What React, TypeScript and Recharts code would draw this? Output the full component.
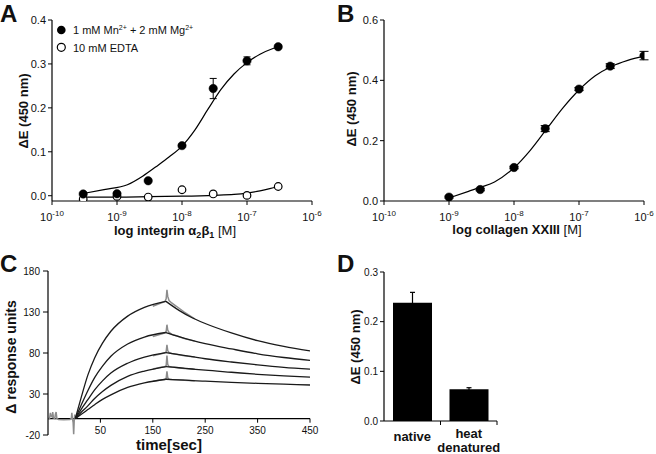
import React from 'react';
import {
  ComposedChart,
  LineChart,
  BarChart,
  Line,
  Scatter,
  Bar,
  XAxis,
  YAxis,
  ErrorBar,
  ReferenceLine,
} from 'recharts';

const FONT = '"Liberation Sans", Arial, Helvetica, sans-serif';
const INK = '#111';

// ---------- Panel A ----------
const aLogConc = [-9.52, -9, -8.52, -8, -7.52, -7, -6.52];
const aMnMg = [0.004, 0.0045, 0.034, 0.114, 0.244, 0.307, 0.339];
const aMnMgErr = [0.002, 0.002, 0.002, 0.003, 0.023, 0.009, 0.004];
const aEdta = [-0.0075, -0.0015, -0.003, 0.0136, 0.004, 0.0008, 0.021];
const aEdtaErr = [0.002, 0.002, 0.002, 0.003, 0.002, 0.002, 0.003];
const aFitMnMgLog = [-9.52, -9.2, -8.84, -8.6, -8.4, -8.2, -8.0, -7.8, -7.6, -7.4, -7.2, -7.0, -6.8, -6.6, -6.52];
const aFitMnMg = [0.005, 0.014, 0.025, 0.045, 0.066, 0.088, 0.113, 0.15, 0.197, 0.242, 0.277, 0.303, 0.322, 0.335, 0.339];
const aFitEdtaLog = [-9.52, -9, -8.5, -8, -7.5, -7.2, -7.0, -6.8, -6.65, -6.52];
const aFitEdta = [-0.003, -0.003, -0.002, -0.001, 0.001, 0.003, 0.006, 0.011, 0.016, 0.021];
const aTicksX = [-10, -9, -8, -7, -6];
const aTicksY = [0, 0.1, 0.2, 0.3, 0.4];

// ---------- Panel B ----------
const bLogConc = [-9, -8.52, -8, -7.52, -7, -6.52, -6];
const bValues = [0.013, 0.038, 0.111, 0.24, 0.371, 0.447, 0.482];
const bErr = [0.003, 0.004, 0.004, 0.01, 0.005, 0.008, 0.014];
const bFitLog = [-9, -8.7, -8.52, -8.3, -8.0, -7.75, -7.5, -7.25, -7.0, -6.75, -6.5, -6.25, -6.0];
const bFit = [0.01, 0.032, 0.045, 0.063, 0.11, 0.168, 0.238, 0.308, 0.368, 0.415, 0.446, 0.466, 0.48];
const bTicksX = [-10, -9, -8, -7, -6];
const bTicksY = [0, 0.2, 0.4, 0.6];

// ---------- Panel C ----------
const cAssocTime = [2, 13, 26, 39, 54, 70, 102, 134, 175];
const cAssoc = [
  [0, 25, 53, 74, 92, 106.5, 125, 135.7, 143],
  [0, 16, 34, 50, 64, 76, 91, 99.5, 105],
  [0, 11, 23, 35, 46, 55.5, 67.5, 75, 80.5],
  [0, 7.5, 15.5, 24.5, 33, 40.5, 51.5, 58, 63.5],
  [0, 5, 11, 17, 23.5, 29, 38, 43.5, 48],
];
const cDissocTime = [175, 200, 225, 250, 300, 350, 400, 450];
const cDissoc = [
  [143, 132, 123, 116, 104.5, 95, 88, 82.5],
  [105, 100, 95.5, 91.5, 85, 79, 74.5, 71],
  [80.5, 78, 75.5, 73, 69, 65.5, 62.5, 60.3],
  [63.5, 62, 60.5, 59, 56.5, 54, 52, 50.6],
  [48, 47.2, 46.4, 45.6, 44.2, 43, 42, 41],
];
const cRawTime = [150, 168, 173, 175.5, 177, 178.5, 181, 186, 195, 210, 230];
const cRaw = [
  [137, 141.5, 142.8, 146, 157, 149, 144, 141, 137, 130, 121.5],
  [100, 103.5, 104.5, 106, 114.5, 108, 105, 103, 101, 97.5, 94.5],
  [76.5, 79.5, 80.2, 81.5, 90, 83, 80.5, 79.5, 78.5, 76.5, 75],
  [60.5, 62.8, 63.3, 64.5, 77, 66, 63.5, 62.8, 62.2, 61.2, 60.3],
  [45.5, 47.5, 47.8, 49, 57.5, 50, 48, 47.7, 47.3, 46.7, 46.2],
];
const cBaseTime = [-50, -47, -45.5, -44, -42, -41, -39.5, -37, -36, -34.5, -33, -30, -20, -8, -5.5, -4.5, -3.5, -2, -1, 0, 1, 2];
const cBase = [0, 0, 7, 3, 2, 8, 1, 0, 5, 8, 0, -1, -1.3, -1, 0, 7, 1, -5, -19, -3, 5, 0];
const cTicksX = [50, 150, 250, 350, 450];
const cTicksY = [-20, 30, 80, 130, 180];

// ---------- Panel D ----------
const dCategories = ['native', 'heat\ndenatured'];
const dValues = [0.238, 0.064];
const dErr = [0.021, 0.003];
const dTicksY = [0, 0.1, 0.2, 0.3];

const zip = (xs: number[], ys: number[], errs?: number[]) =>
  xs.map((x, i) => ({ x, y: ys[i], err: errs ? errs[i] : 0 }));

const aMnMgData = zip(aLogConc, aMnMg, aMnMgErr);
const aEdtaData = zip(aLogConc, aEdta, aEdtaErr);
const aFitMnMgData = zip(aFitMnMgLog, aFitMnMg);
const aFitEdtaData = zip(aFitEdtaLog, aFitEdta);
const bData = zip(bLogConc, bValues, bErr);
const bFitData = zip(bFitLog, bFit);
const cAssocData = cAssoc.map((vals) => zip(cAssocTime, vals));
const cDissocData = cDissoc.map((vals) => zip(cDissocTime, vals));
const cRawData = cRaw.map((vals) => zip(cRawTime, vals));
const cBaseData = zip(cBaseTime, cBase);
const dData = dCategories.map((c, i) => ({ pos: i + 0.5, value: dValues[i], err: dErr[i] }));

const PowTick = (props: any) => {
  const { x, y, payload } = props;
  return (
    <text x={x} y={y + 13.5} textAnchor="middle" fontSize={11} fontFamily={FONT} fill={INK}>
      10
      <tspan dy={-4.5} fontSize={8}>
        {String(payload.value)}
      </tspan>
    </text>
  );
};

const CTick = (props: any) => {
  const { x, y, payload } = props;
  return (
    <text x={x} y={y - 1} textAnchor="middle" fontSize={10} fontFamily={FONT} fill={INK}>
      {payload.value}
    </text>
  );
};

const DTick = (props: any) => {
  const { x, y, payload } = props;
  const v = payload.value as number;
  if (Number.isInteger(v)) {
    if (v === 0) return null;
    return <line x1={x} x2={x} y1={y} y2={y + 4} stroke="#000" strokeWidth={1} />;
  }
  const lines = dCategories[Math.floor(v)].split('\n');
  const base = lines.length === 1 ? 20 : 17;
  return (
    <g>
      {lines.map((l, i) => (
        <text
          key={i}
          x={x}
          y={y + base + i * 14}
          textAnchor="middle"
          fontSize={13}
          fontWeight="bold"
          fontFamily={FONT}
          fill={INK}
        >
          {l}
        </text>
      ))}
    </g>
  );
};

const filledDot = (props: any) => {
  const { cx, cy } = props;
  return <circle cx={cx} cy={cy} r={4.2} fill="#000" stroke="#000" strokeWidth={0.5} />;
};
const openDot = (props: any) => {
  const { cx, cy } = props;
  return <circle cx={cx} cy={cy} r={3.8} fill="#fff" stroke="#000" strokeWidth={1.2} />;
};

const yTickStyle = (size: number) => ({ fontSize: size, fontFamily: FONT, fill: INK });
const axisLine = { stroke: '#000', strokeWidth: 1.2 };

export default function App() {
  return (
    <div style={{ position: 'absolute', left: 0, top: 0, width: 656, height: 454, background: '#fff', fontFamily: FONT }}>
      {/* Panel A */}
      <div style={{ position: 'absolute', left: 0, top: 0 }}>
        <ComposedChart width={330} height={225} margin={{ top: 20, right: 18, bottom: 0, left: 0 }}>
          <XAxis
            type="number"
            dataKey="x"
            domain={[-10, -6]}
            ticks={aTicksX}
            allowDataOverflow
            height={24}
            tickSize={4}
            tickMargin={2}
            axisLine={axisLine}
            tickLine={{ stroke: '#000' }}
            tick={<PowTick />}
            interval={0}
          />
          <YAxis
            type="number"
            dataKey="y"
            domain={[-0.012, 0.4]}
            ticks={aTicksY}
            allowDataOverflow
            width={52}
            tickSize={4}
            tickMargin={2}
            axisLine={axisLine}
            tickLine={{ stroke: '#000' }}
            tick={yTickStyle(11)}
            tickFormatter={(v: number) => v.toFixed(1)}
            interval={0}
          />
          <Line data={aFitMnMgData} dataKey="y" type="monotone" stroke="#000" strokeWidth={1.2} dot={false} isAnimationActive={false} />
          <Line data={aFitEdtaData} dataKey="y" type="monotone" stroke="#000" strokeWidth={1.2} dot={false} isAnimationActive={false} />
          <Scatter data={aEdtaData} dataKey="y" shape={openDot} isAnimationActive={false}>
            <ErrorBar dataKey="err" direction="y" width={3.5} stroke="#000" strokeWidth={1} />
          </Scatter>
          <Scatter data={aMnMgData} dataKey="y" shape={filledDot} isAnimationActive={false}>
            <ErrorBar dataKey="err" direction="y" width={3.5} stroke="#000" strokeWidth={1} />
          </Scatter>
        </ComposedChart>
      </div>

      {/* Panel B */}
      <div style={{ position: 'absolute', left: 330, top: 0 }}>
        <ComposedChart width={326} height={225} margin={{ top: 20, right: 12, bottom: 0, left: 0 }}>
          <XAxis
            type="number"
            dataKey="x"
            domain={[-10, -6]}
            ticks={bTicksX}
            allowDataOverflow
            height={24}
            tickSize={4}
            tickMargin={2}
            axisLine={axisLine}
            tickLine={{ stroke: '#000' }}
            tick={<PowTick />}
            interval={0}
          />
          <YAxis
            type="number"
            dataKey="y"
            domain={[0, 0.6]}
            ticks={bTicksY}
            allowDataOverflow
            width={54}
            tickSize={4}
            tickMargin={2}
            axisLine={axisLine}
            tickLine={{ stroke: '#000' }}
            tick={yTickStyle(11)}
            tickFormatter={(v: number) => v.toFixed(1)}
            interval={0}
          />
          <Line data={bFitData} dataKey="y" type="monotone" stroke="#000" strokeWidth={1.2} dot={false} isAnimationActive={false} />
          <Scatter data={bData} dataKey="y" shape={filledDot} isAnimationActive={false}>
            <ErrorBar dataKey="err" direction="y" width={4.5} stroke="#000" strokeWidth={1} />
          </Scatter>
        </ComposedChart>
      </div>

      {/* Panel C */}
      <div style={{ position: 'absolute', left: 0, top: 250 }}>
        <LineChart width={330} height={204} margin={{ top: 21, right: 20, bottom: 0, left: 0 }}>
          <XAxis
            type="number"
            dataKey="x"
            domain={[-50, 450]}
            ticks={cTicksX}
            allowDataOverflow
            height={19}
            tickSize={0}
            tickMargin={0}
            axisLine={false}
            tickLine={false}
            tick={<CTick />}
            interval={0}
          />
          <YAxis
            type="number"
            dataKey="y"
            domain={[-20, 180]}
            ticks={cTicksY}
            allowDataOverflow
            width={48}
            tickSize={5}
            tickMargin={3}
            axisLine={axisLine}
            tickLine={{ stroke: '#000' }}
            tick={yTickStyle(10)}
            interval={0}
          />
          <ReferenceLine y={0} stroke="#000" strokeWidth={1.2} ifOverflow="extendDomain" />
          {cTicksX.map((t) => (
            <ReferenceLine
              key={t}
              segment={[
                { x: t, y: 0 },
                { x: t, y: -5 },
              ]}
              stroke="#000"
              strokeWidth={1}
            />
          ))}
          <Line data={cBaseData} dataKey="y" type="linear" stroke="#8c8c8c" strokeWidth={1.5} dot={false} isAnimationActive={false} />
          {cRawData.map((d, i) => (
            <Line key={'r' + i} data={d} dataKey="y" type="linear" stroke="#8c8c8c" strokeWidth={1.5} dot={false} isAnimationActive={false} />
          ))}
          {cAssocData.map((d, i) => (
            <Line key={'a' + i} data={d} dataKey="y" type="monotone" stroke="#1a1a1a" strokeWidth={1.3} dot={false} isAnimationActive={false} />
          ))}
          {cDissocData.map((d, i) => (
            <Line key={'d' + i} data={d} dataKey="y" type="monotone" stroke="#1a1a1a" strokeWidth={1.3} dot={false} isAnimationActive={false} />
          ))}
        </LineChart>
      </div>

      {/* Panel D */}
      <div style={{ position: 'absolute', left: 330, top: 250 }}>
        <BarChart width={326} height={204} data={dData} margin={{ top: 22, right: 159, bottom: 0, left: 0 }}>
          <XAxis
            type="number"
            dataKey="pos"
            domain={[0, 2]}
            ticks={[0, 0.5, 1, 1.5, 2]}
            allowDataOverflow
            height={33}
            tickSize={0}
            tickMargin={0}
            axisLine={axisLine}
            tickLine={false}
            tick={<DTick />}
            interval={0}
          />
          <YAxis
            type="number"
            domain={[0, 0.3]}
            ticks={dTicksY}
            allowDataOverflow
            width={54}
            tickSize={4}
            tickMargin={2}
            axisLine={axisLine}
            tickLine={{ stroke: '#000' }}
            tick={yTickStyle(10)}
            tickFormatter={(v: number) => v.toFixed(1)}
            interval={0}
          />
          <Bar dataKey="value" fill="#000" barSize={39} isAnimationActive={false}>
            <ErrorBar dataKey="err" direction="y" width={2.5} stroke="#000" strokeWidth={1.2} />
          </Bar>
        </BarChart>
      </div>

      {/* Overlay text */}
      <svg width={656} height={454} style={{ position: 'absolute', left: 0, top: 0, pointerEvents: 'none' }}>
        <g fontFamily={FONT} fill={INK}>
          {/* panel letters */}
          <text x={0} y={21.5} fontSize={24} fontWeight="bold">A</text>
          <text x={337} y={21.5} fontSize={24} fontWeight="bold">B</text>
          <text x={0} y={272} fontSize={24} fontWeight="bold">C</text>
          <text x={337} y={272} fontSize={24} fontWeight="bold">D</text>

          {/* legend A */}
          <circle cx={61.3} cy={30} r={4.3} fill="#000" />
          <text x={73} y={34.3} fontSize={11}>
            1 mM Mn<tspan dy={-4} fontSize={7}>2+</tspan>
            <tspan dy={4}> + 2 mM Mg</tspan>
            <tspan dy={-4} fontSize={7}>2+</tspan>
          </text>
          <circle cx={61.3} cy={47.3} r={4} fill="#fff" stroke="#000" strokeWidth={1.2} />
          <text x={73} y={51.5} fontSize={11}>10 mM EDTA</text>

          {/* axis titles */}
          <text transform="translate(28,111) rotate(-90)" textAnchor="middle" fontSize={13} fontWeight="bold">ΔE (450 nm)</text>
          <text x={175} y={235} textAnchor="middle" fontSize={13} fontWeight="bold">
            log integrin α<tspan dy={3} fontSize={9}>2</tspan>
            <tspan dy={-3}>β</tspan>
            <tspan dy={3} fontSize={9}>1</tspan>
            <tspan dy={-3} fontWeight="normal"> [M]</tspan>
          </text>

          <text transform="translate(356,109) rotate(-90)" textAnchor="middle" fontSize={13} fontWeight="bold">ΔE (450 nm)</text>
          <text x={517} y={234} textAnchor="middle" fontSize={13} fontWeight="bold">
            log collagen XXIII<tspan fontWeight="normal"> [M]</tspan>
          </text>

          <text transform="translate(16,357) rotate(-90)" textAnchor="middle" fontSize={14} fontWeight="bold">Δ response units</text>
          <text x={169} y={450} textAnchor="middle" fontSize={15} fontWeight="bold">time[sec]</text>

          <text transform="translate(360,347) rotate(-90)" textAnchor="middle" fontSize={13} fontWeight="bold">ΔE (450 nm)</text>
        </g>
      </svg>
    </div>
  );
}
